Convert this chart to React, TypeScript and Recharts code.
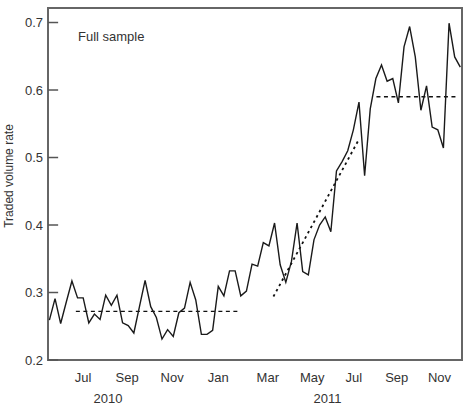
import React from 'react';
import { LineChart, Line, XAxis, YAxis, ReferenceLine, ReferenceArea } from 'recharts';

// Traded volume rate, one value per period (index 0..73)
const volumeRate: number[] = [
  0.259, 0.291, 0.254, 0.286, 0.317, 0.292, 0.292, 0.255, 0.268, 0.260,
  0.296, 0.281, 0.296, 0.255, 0.251, 0.240, 0.279, 0.318, 0.279, 0.263,
  0.231, 0.245, 0.235, 0.270, 0.277, 0.315, 0.289, 0.238, 0.238, 0.244,
  0.309, 0.295, 0.332, 0.332, 0.295, 0.302, 0.342, 0.339, 0.374, 0.369,
  0.403, 0.341, 0.315, 0.346, 0.403, 0.331, 0.326, 0.378, 0.400, 0.412,
  0.390, 0.480, 0.494, 0.510, 0.541, 0.582, 0.473, 0.572, 0.617, 0.637,
  0.613, 0.617, 0.581, 0.664, 0.694, 0.649, 0.570, 0.606, 0.545, 0.541,
  0.514, 0.699, 0.649, 0.634,
];

const monthLabels: string[] = ['Jul', 'Sep', 'Nov', 'Jan', 'Mar', 'May', 'Jul', 'Sep', 'Nov'];
const monthPositions: number[] = [6.0, 13.8, 21.8, 30.0, 38.8, 46.7, 54.1, 61.7, 69.3];
const yearLabels: string[] = ['2010', '2011'];
const yearPositions: number[] = [10.4, 49.4];
const yTicks: number[] = [0.2, 0.3, 0.4, 0.5, 0.6, 0.7];

// Regime fits (start index, end index, start value, end value)
const flatLow = { x1: 4.7, x2: 33.9, y1: 0.272, y2: 0.272 };
const trendUp = { x1: 39.8, x2: 54.8, y1: 0.294, y2: 0.524 };
const flatHigh = { x1: 58.1, x2: 72.5, y1: 0.590, y2: 0.590 };

const X_DOMAIN: [number, number] = [-0.25, 73.3];
const Y_DOMAIN: [number, number] = [0.2, 0.7215];

const data = volumeRate.map((v, i) => ({ i, v }));
const FONT = '"Liberation Sans", Arial, sans-serif';
const TXT = '#333';

const XTick = (props: any) => {
  const { x, y, payload } = props;
  const val = payload.value;
  const yi = yearPositions.indexOf(val);
  if (yi >= 0) {
    return (
      <text x={x} y={y + 43} textAnchor="middle" fontSize={13} fill={TXT} fontFamily={FONT}>
        {yearLabels[yi]}
      </text>
    );
  }
  const mi = monthPositions.indexOf(val);
  return (
    <text x={x} y={y + 21.5} textAnchor="middle" fontSize={13} fill={TXT} fontFamily={FONT}>
      {mi >= 0 ? monthLabels[mi] : ''}
    </text>
  );
};

const YTick = (props: any) => {
  const { x, y, payload } = props;
  return (
    <text x={x} y={y + 4.5} textAnchor="end" fontSize={13} fill={TXT} fontFamily={FONT}>
      {payload.value.toFixed(1)}
    </text>
  );
};

export default function App() {
  return (
    <div style={{ position: 'absolute', left: 0, top: 0, width: 465, height: 407, background: '#fff' }}>
      <LineChart
        width={465}
        height={407}
        data={data}
        margin={{ top: 8, right: 3, bottom: 0, left: 0 }}
      >
        <XAxis
          dataKey="i"
          type="number"
          domain={X_DOMAIN}
          allowDataOverflow
          ticks={[...monthPositions, ...yearPositions]}
          interval={0}
          tick={<XTick />}
          tickLine={false}
          tickSize={0}
          tickMargin={0}
          axisLine={false}
          height={47}
        />
        <YAxis
          type="number"
          domain={Y_DOMAIN}
          allowDataOverflow
          ticks={yTicks}
          interval={0}
          tick={<YTick />}
          tickLine={false}
          tickSize={0}
          tickMargin={5}
          axisLine={false}
          width={48}
          label={{
            content: () => (
              <text
                transform="translate(13,176) rotate(-90)"
                textAnchor="middle"
                fontSize={12}
                fill={TXT}
                fontFamily={FONT}
              >
                Traded volume rate
              </text>
            ),
          }}
        />
        {yTicks.map((t) => (
          <ReferenceLine
            key={t}
            segment={[{ x: X_DOMAIN[0], y: t }, { x: X_DOMAIN[0] + 1.8, y: t }]}
            stroke="#555"
            strokeWidth={1.5}
            ifOverflow="visible"
          />
        ))}
        <ReferenceLine
          segment={[{ x: flatLow.x1, y: flatLow.y1 }, { x: flatLow.x2, y: flatLow.y2 }]}
          stroke="#111"
          strokeWidth={1.4}
          strokeDasharray="4 3.5"
        />
        <ReferenceLine
          segment={[{ x: trendUp.x1, y: trendUp.y1 }, { x: trendUp.x2, y: trendUp.y2 }]}
          stroke="#111"
          strokeWidth={1.8}
          strokeDasharray="2.5 3.5"
        />
        <ReferenceLine
          segment={[{ x: flatHigh.x1, y: flatHigh.y1 }, { x: flatHigh.x2, y: flatHigh.y2 }]}
          stroke="#111"
          strokeWidth={1.4}
          strokeDasharray="4 3.5"
        />
        <Line
          type="linear"
          dataKey="v"
          stroke="#1a1a1a"
          strokeWidth={1.4}
          dot={false}
          isAnimationActive={false}
        />
        <ReferenceArea
          x1={X_DOMAIN[0]}
          x2={X_DOMAIN[1]}
          y1={Y_DOMAIN[0]}
          y2={Y_DOMAIN[1]}
          fill="none"
          fillOpacity={0}
          stroke="#666"
          strokeWidth={2}
          ifOverflow="visible"
        />
      </LineChart>
      <div
        style={{
          position: 'absolute',
          left: 78,
          top: 29,
          fontSize: 13,
          fontFamily: FONT,
          color: TXT,
          lineHeight: '16px',
          whiteSpace: 'nowrap',
        }}
      >
        Full sample
      </div>
    </div>
  );
}
